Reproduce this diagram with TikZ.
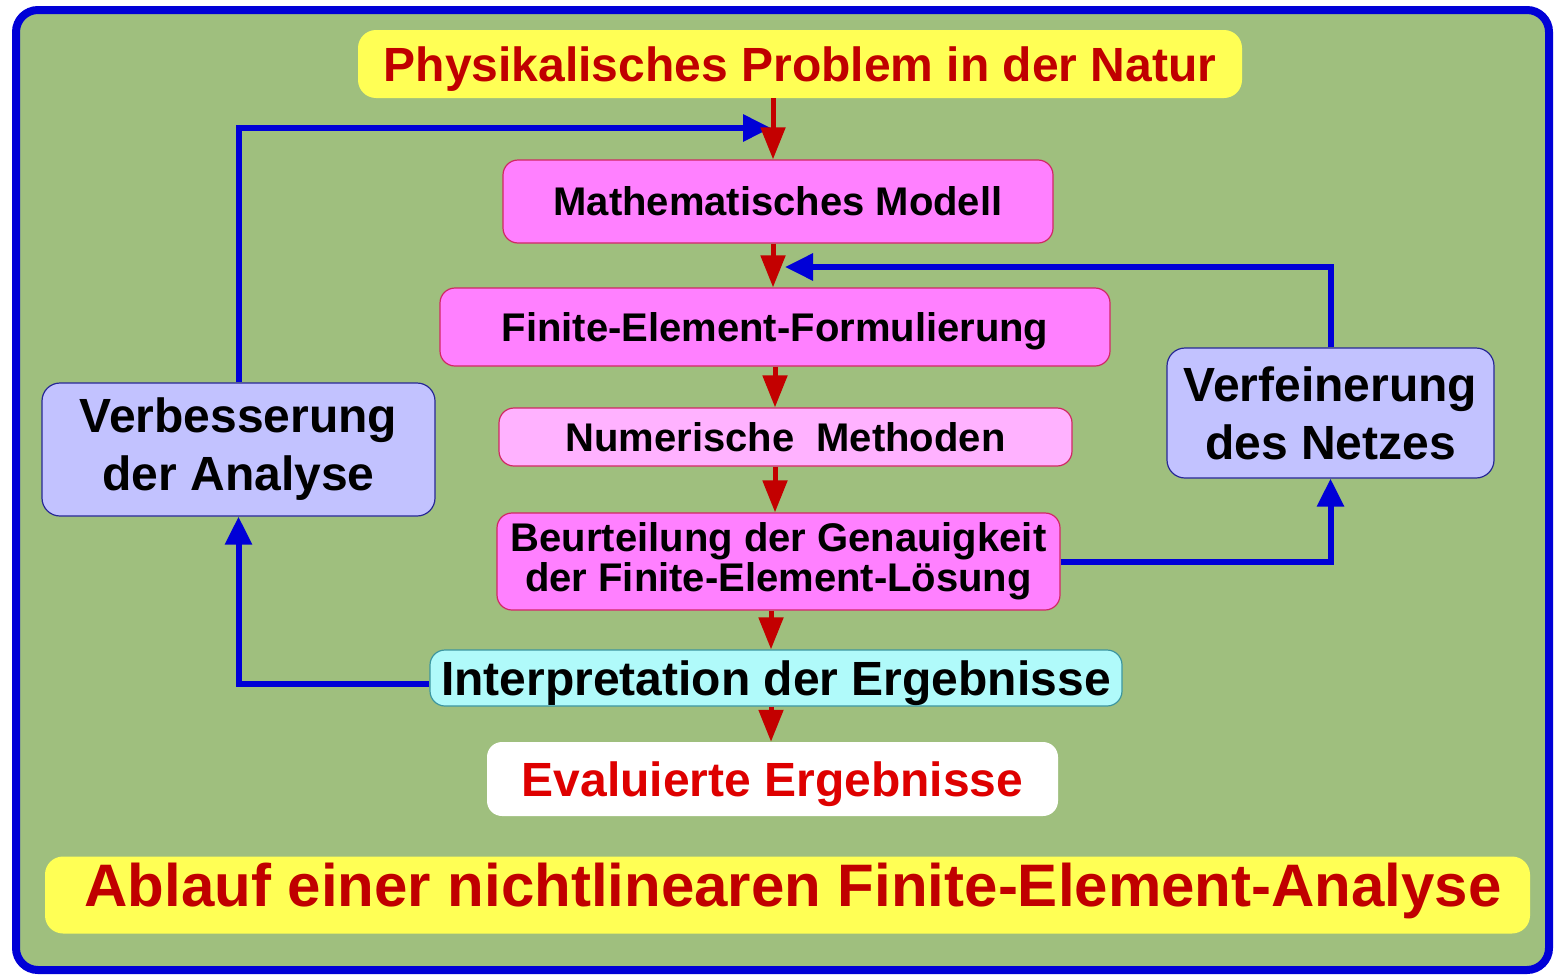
\documentclass[tikz,border=0pt]{standalone}
\usepackage{fontspec}
\setmainfont{Liberation Sans}
\usetikzlibrary{arrows.meta,calc}
\definecolor{bggreen}{RGB}{159,191,126}
\definecolor{frameblue}{RGB}{0,0,215}
\definecolor{ybox}{RGB}{255,255,85}
\definecolor{darkred}{RGB}{192,0,0}
\definecolor{brightred}{RGB}{222,0,0}
\definecolor{pinkfill}{RGB}{255,128,255}
\definecolor{lightpink}{RGB}{255,178,255}
\definecolor{pinkline}{RGB}{208,40,100}
\definecolor{lavfill}{RGB}{194,194,255}
\definecolor{lavline}{RGB}{40,40,150}
\definecolor{cyanfill}{RGB}{176,250,250}
\definecolor{cyanline}{RGB}{60,150,160}
\definecolor{arrred}{RGB}{195,0,0}
\tikzset{
  base/.style={rounded corners=15pt, inner sep=0pt, align=center},
  fforty/.style={font=\fontsize{40}{40}\selectfont\bfseries, text height=28.6pt, text depth=0pt},
  ffortyeight/.style={font=\fontsize{48}{48}\selectfont\bfseries, text height=34.4pt, text depth=0pt},
  fsixty/.style={font=\fontsize{60}{60}\selectfont\bfseries, text height=43pt, text depth=0pt},
  pinkbox/.style={base, fforty, fill=pinkfill, draw=pinkline, line width=1.2pt},
  yellowbox/.style={base, fill=ybox, rounded corners=18pt},
  lavbox/.style={base, fill=lavfill, draw=lavline, line width=1.2pt, rounded corners=18pt, font=\fontsize{48}{58}\selectfont\bfseries},
  redarr/.style={draw=arrred, line width=5pt, -{Triangle[length=32pt,width=24pt]}},
  bluearr/.style={draw=frameblue, line width=6pt, -{Triangle[length=28pt,width=26pt]}},
}
\begin{document}
\begin{tikzpicture}[x=1pt,y=-1pt]
\useasboundingbox (0,0) rectangle (1554,977);
\fill[white] (0,0) rectangle (1554,977);
\draw[frameblue, fill=bggreen, line width=8pt, rounded corners=22pt] (16,10) rectangle (1549,970);

% top title
\node[yellowbox, ffortyeight, minimum width=884pt, minimum height=68pt, text=darkred] (top) at (800,64) {Physikalisches Problem in der Natur};

\node[pinkbox, minimum width=550pt, minimum height=83pt] (math) at (778,201.5) {Mathematisches Modell};
\node[pinkbox, minimum width=670pt, minimum height=78pt] (fef) at (775,327) {Finite-Element-Formulierung};
\node[pinkbox, fill=lightpink, minimum width=573pt, minimum height=58pt] (num) at (785.5,437) {Numerische\ \ Methoden};
\node[base, fill=pinkfill, draw=pinkline, line width=1.2pt, font=\fontsize{40}{40}\selectfont\bfseries, minimum width=563pt, minimum height=97pt] (beur) at (778.5,561.5) {Beurteilung der Genauigkeit\\der Finite-Element-Lösung};
\node[base, ffortyeight, fill=cyanfill, draw=cyanline, line width=1.2pt, minimum width=692pt, minimum height=56pt] (interp) at (776,678) {Interpretation der Ergebnisse};
\node[base, ffortyeight, fill=white, text=brightred, minimum width=571pt, minimum height=74pt] (eval) at (772.5,779) {Evaluierte Ergebnisse};

\node[lavbox, minimum width=393pt, minimum height=133pt] (verb) at (238.5,449.5) {Verbesserung\\der Analyse};
\node[lavbox, minimum width=327pt, minimum height=130pt] (verf) at (1330.5,413) {Verfeinerung\\des Netzes};

% bottom title
\node[yellowbox, minimum width=1485pt, minimum height=77pt] (bot) at (787.5,895) {};
\node[fsixty, inner sep=0pt, text=darkred] (bottxt) at (793,885) {Ablauf einer nichtlinearen Finite-Element-Analyse};

% blue feedback arrows
\coordinate (j1) at (771,128);
\coordinate (j2) at (785,267);
\draw[bluearr] (verb.north) |- (j1);
\draw[bluearr] (verf.north) |- (j2);
\draw[bluearr] (beur.east) -| (verf.south);
\draw[bluearr] ($(interp.west)+(0,6)$) -| (verb.south);

% red main arrows
\coordinate (c1) at (773,0);
\coordinate (c2) at (775,0);
\coordinate (c3) at (771,0);
\draw[redarr] (top.south -| c1) -- (math.north -| c1);
\draw[redarr] (math.south -| c1) -- (fef.north -| c1);
\draw[redarr] (fef.south -| c2) -- (num.north -| c2);
\draw[redarr] (num.south -| c2) -- (beur.north -| c2);
\draw[redarr] (beur.south -| c3) -- (interp.north -| c3);
\draw[redarr] (interp.south -| c3) -- (eval.north -| c3);
\end{tikzpicture}
\end{document}
